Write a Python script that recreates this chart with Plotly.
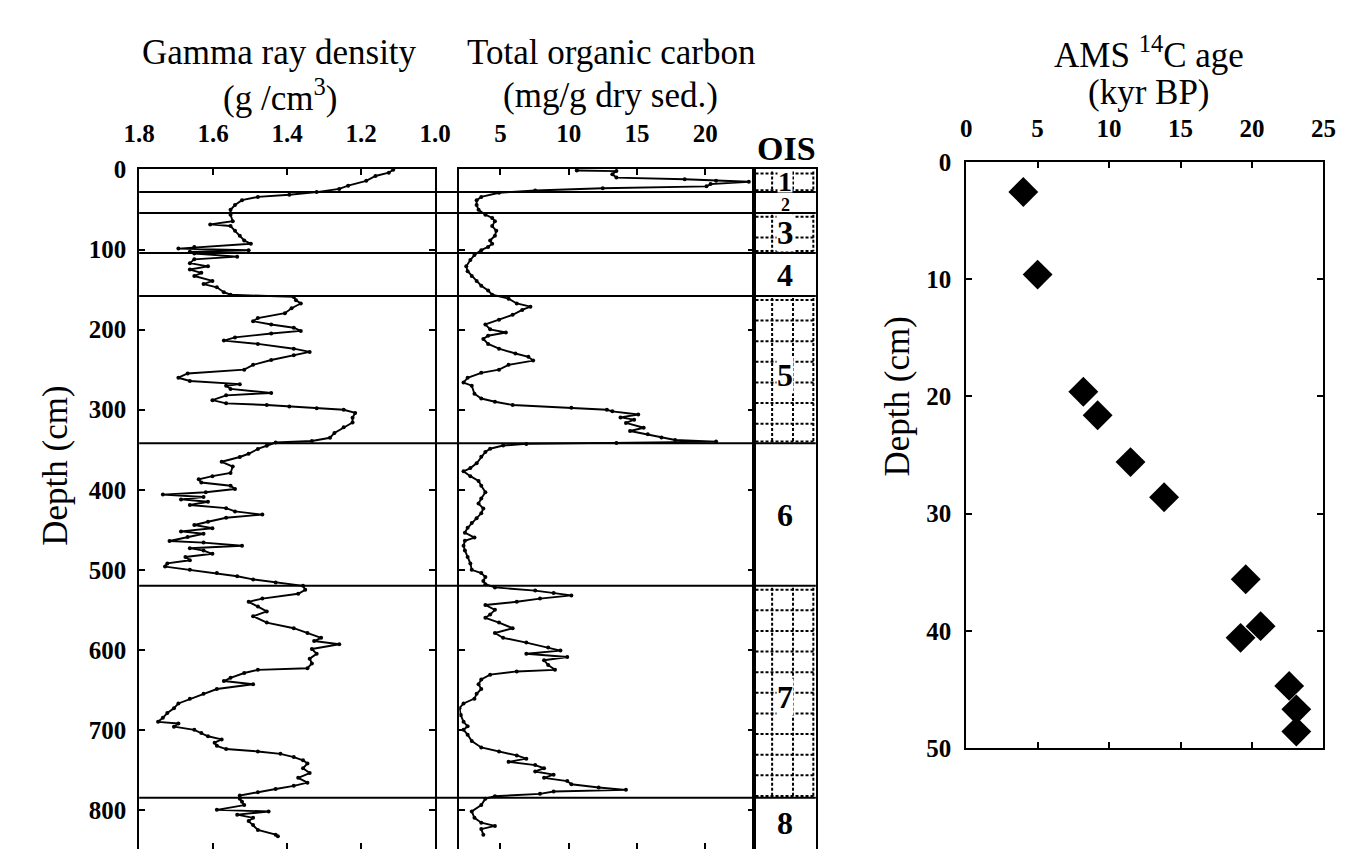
import plotly.graph_objects as go

FONT = "Liberation Serif"
W, H = 1351, 855

# ---------------- data ----------------
gamma_depth = [0, 3.8, 7.9, 13.9, 20, 24, 28, 31.3, 34, 38.1, 44.2, 50.2, 56.3, 64.4, 68.4, 70.4, 76.4, 82.5, 88.5, 92.6,
               96.6, 98.6, 100.6, 102.7, 104.7, 108.7, 112, 116.8, 120.8, 124.8, 128.9, 132.9, 139, 143, 147, 153.1, 156.3,
               159, 163.2, 167.2, 173.2, 179.3, 185.4, 189.4, 193.4, 197.5, 201.5, 204.7, 209.6, 213.6, 217.7, 223.7,
               227.7, 231.8, 237.8, 243.9, 249.9, 254.7, 260, 264, 268,
               270, 274, 279, 282, 288, 292, 294, 296, 298, 300, 304, 310, 316, 322, 329, 335, 339, 341, 345, 349, 355,
               359, 365, 371, 379, 383, 387, 391, 395, 399, 403, 406, 409, 412, 415, 419, 423, 427, 431, 435, 440, 444,
               448, 452, 455, 459, 464, 466, 470, 473, 476, 480, 484, 488, 492, 496, 500, 504, 508, 512, 516, 520, 525,
               530, 536, 540, 546, 552,
               558, 566, 573, 579, 585, 589, 593, 599, 605, 611, 617, 623, 625, 629, 635, 639, 643, 649, 655, 661, 667,
               673, 679, 685, 690, 692, 696, 700, 704, 708, 712, 716, 720, 724, 727, 730, 734, 738, 742, 748, 754, 760,
               766, 770, 774, 778, 782, 786, 790, 794, 800, 802, 806, 810, 814, 819, 825, 831, 833]
gamma_value = [1.113, 1.125, 1.161, 1.186, 1.235, 1.259, 1.32, 1.394, 1.479, 1.522, 1.541, 1.553, 1.553, 1.547, 1.608,
               1.553, 1.541, 1.528, 1.516, 1.498, 1.651, 1.694, 1.504, 1.663, 1.651, 1.535, 1.651, 1.663, 1.614, 1.663,
               1.632, 1.651, 1.602, 1.626, 1.59, 1.571, 1.553, 1.382, 1.376, 1.363, 1.388, 1.406, 1.479, 1.492, 1.443,
               1.382, 1.363, 1.443, 1.541, 1.571, 1.479, 1.382, 1.339, 1.382, 1.443, 1.492, 1.516, 1.669, 1.694, 1.663,
               1.528,
               1.565, 1.553, 1.443, 1.565, 1.602, 1.565, 1.455, 1.394, 1.32, 1.247, 1.216, 1.223, 1.223, 1.247, 1.272,
               1.284, 1.333, 1.431, 1.455, 1.479, 1.504, 1.528, 1.577, 1.547, 1.553, 1.602, 1.639, 1.632, 1.553, 1.541,
               1.62, 1.736, 1.626, 1.687, 1.614, 1.663, 1.565, 1.541, 1.467, 1.565, 1.614, 1.651, 1.602, 1.687, 1.626,
               1.669, 1.718, 1.626, 1.522, 1.663, 1.626, 1.602, 1.675, 1.663, 1.724, 1.73, 1.663, 1.59, 1.535, 1.492,
               1.431, 1.357, 1.351, 1.37, 1.467, 1.504, 1.479, 1.455,
               1.492, 1.455, 1.382, 1.345, 1.308, 1.327, 1.259, 1.333, 1.32, 1.339, 1.333, 1.345, 1.479, 1.516, 1.553,
               1.571, 1.492, 1.59, 1.626, 1.663, 1.694, 1.706, 1.724, 1.736, 1.749, 1.694, 1.706, 1.651, 1.632, 1.614,
               1.577, 1.596, 1.59, 1.565, 1.479, 1.418, 1.382, 1.357, 1.345, 1.357, 1.339, 1.37, 1.345, 1.382, 1.431,
               1.479, 1.528, 1.528, 1.522, 1.516, 1.59, 1.45, 1.535, 1.492, 1.504, 1.492, 1.479, 1.431, 1.425]

toc_depth = [1, 1.8, 5.8, 9.9, 11.9, 13.9, 15.1, 18, 20.8, 23.2, 26, 28.8, 34, 38.1, 44.2, 50.2, 56.3, 60.3, 64.4, 70.4,
             76.4, 82.5, 88.5, 92.6, 96.6, 100.6, 106.7, 112.8, 120.8, 126.9, 132.9, 139, 145, 151.1, 156.3, 161.2,
             167.2, 171.2, 175.3, 181.3, 187.4, 193.4, 199.5, 203.5, 207.5, 211.6, 217.7, 223.7, 229.7, 233.8, 238.6,
             243.9, 249.9, 253.9, 260, 266, 270, 280, 286, 290, 294, 297.5, 300, 302, 306, 309.6, 312.4, 316.4, 322.5,
             326.5, 330.6, 334.6, 337.8, 339.8, 341.5, 342.7, 344.7, 348.7, 352.8, 358.8, 366.9, 372.9, 377, 383, 389,
             395, 403, 411, 417.3, 423.4, 429.4, 435.5, 441.5, 447.6, 453.6, 459.7, 463.7, 469.8, 475.8, 483.9, 492,
             500, 504, 509, 514, 518, 522, 526, 529, 532, 536, 540, 544, 550, 556, 560, 566, 573, 579, 585, 591, 597,
             601, 605, 609, 613, 619, 625, 627, 631, 637, 643, 649, 655, 661, 667, 673, 681.6, 690, 695.6, 700, 706,
             714, 722, 727, 732, 736, 740, 744, 748, 752, 756, 760, 764, 768, 772, 775, 777, 780, 783, 786, 794, 802,
             810, 816, 820, 824, 831]
toc_value = [10.6, 13.5, 13.2, 13.5, 18.5, 20.8, 23.2, 20.4, 20.1, 12.5, 7.55, 4.9, 3.6, 3.26, 3.26, 3.4, 3.9, 4.4, 4.6,
             4.4, 4.7, 4.6, 4.25, 4.4, 4.1, 3.6, 3.1, 2.8, 2.5, 2.6, 2.9, 3.26, 3.6, 4.1, 4.4, 5.6, 6.2, 7.2, 6.6, 5.9,
             4.9, 3.9, 4.25, 5.4, 4.1, 3.75, 4.1, 4.9, 6.1, 7.05, 7.4, 5.6, 4.9, 3.6, 2.6, 2.3, 2.9, 3.1, 3.6, 4.6, 5.9,
             10.2, 12.8, 13.2, 15.1, 13.8, 14.8, 14.2, 15.5, 14.5, 15.8, 16.8, 17.8, 20.8, 13.5, 6.9, 5.2, 4.25, 3.9,
             3.6, 3.26, 2.8, 2.3, 2.8, 3.4, 3.6, 3.9, 3.6, 3.4, 3.75, 3.6, 3.26, 2.9, 2.6, 2.4, 3.1, 2.4, 2.3, 2.4, 2.6,
             2.8, 2.9, 3.6, 3.9, 3.75, 3.9, 4.6, 7.55, 8.9, 10.2, 7.9, 6.2, 3.9, 4.6, 4.25, 3.9, 4.9, 5.9, 4.6, 5.2,
             6.9, 8.5, 9.4, 6.9, 9.9, 8.2, 8.5, 9.0, 6.2, 4.25, 3.6, 3.4, 3.6, 3.26, 3.1, 2.3, 2.0, 2.1, 2.3, 2.6, 2.3,
             2.6, 2.9, 3.6, 4.9, 6.2, 6.9, 5.6, 7.55, 8.2, 7.55, 8.9, 8.2, 9.9, 10.2, 12.2, 14.2, 8.9, 7.9, 4.6, 3.9,
             3.6, 2.9, 3.1, 3.6, 4.6, 3.6, 3.75]

ois_bounds = [0, 28, 54, 104, 158, 342, 520, 785, 849]
ois_stages = ["1", "2", "3", "4", "5", "6", "7", "8"]
ois_label_size = [28, 18, 33, 32, 32, 32, 32, 32]

age_kyr = [4.0, 5.0, 8.2, 9.2, 11.5, 13.85, 19.56, 20.6, 19.2, 22.6, 23.1, 23.1]
age_depth = [2.55, 9.6, 19.6, 21.6, 25.6, 28.6, 35.6, 39.6, 40.6, 44.7, 46.7, 48.6]

gamma_ticks = [1.8, 1.6, 1.4, 1.2, 1.0]
toc_ticks = [5, 10, 15, 20]
depth_ticks = [0, 100, 200, 300, 400, 500, 600, 700, 800]

# ---------------- geometry (pixels -> paper) ----------------
def px(p):
    return p / W

def py(p):
    return 1 - p / H

TOP = 152.7
DEPTH_RANGE = [848.9, -1.0]
GAMMA_RANGE = [1.8, 1.0]
TOC_RANGE = [2, 23.6]

tickfont = dict(family=FONT, size=25, color="black", weight="bold")
common = dict(showline=True, linewidth=2, linecolor="black", showgrid=False, zeroline=False,
              ticks="inside", ticklen=6, tickwidth=2, tickcolor="black", tickfont=tickfont)
bottom_ticks = dict(side="bottom", showline=False, showgrid=False, zeroline=False, ticks="inside", ticklen=6,
                    tickwidth=2, tickcolor="black", showticklabels=False)

fig = go.Figure()
line_style = dict(color="black", width=1.9)
mk = dict(size=4, color="black")
fig.add_trace(go.Scatter(x=gamma_value, y=gamma_depth, mode="lines+markers", line=line_style, marker=mk,
                         xaxis="x", yaxis="y", showlegend=False))
fig.add_trace(go.Scatter(x=toc_value, y=toc_depth, mode="lines+markers", line=line_style, marker=mk,
                         xaxis="x2", yaxis="y2", showlegend=False))
fig.add_trace(go.Scatter(x=[], y=[], xaxis="x3", yaxis="y3", showlegend=False))
fig.add_trace(go.Scatter(x=age_kyr, y=age_depth, mode="markers",
                         marker=dict(symbol="diamond", size=23, color="black"),
                         xaxis="x4", yaxis="y4", showlegend=False))
fig.add_trace(go.Scatter(x=[], y=[], xaxis="x5", yaxis="y", showlegend=False))
fig.add_trace(go.Scatter(x=[], y=[], xaxis="x6", yaxis="y2", showlegend=False))

fig.update_layout(
    width=W, height=H, margin=dict(l=0, r=0, t=0, b=0),
    plot_bgcolor="white", paper_bgcolor="white", showlegend=False,
    xaxis=dict(domain=[px(118), px(421)], range=GAMMA_RANGE, side="top", anchor="y",
               tickvals=gamma_ticks, ticktext=["%.1f" % v for v in gamma_ticks], mirror=False,
               ticklabelstandoff=15, **common),
    xaxis5=dict(overlaying="x", anchor="y", range=GAMMA_RANGE, tickvals=gamma_ticks, **bottom_ticks),
    yaxis=dict(domain=[0, py(TOP)], range=DEPTH_RANGE, anchor="x", tickvals=depth_ticks, mirror="ticks",
               ticklabelstandoff=6, **common),
    xaxis2=dict(domain=[px(446), px(748)], range=TOC_RANGE, side="top", anchor="y2",
                tickvals=toc_ticks, mirror=False, ticklabelstandoff=15, **common),
    xaxis6=dict(overlaying="x2", anchor="y2", range=TOC_RANGE, tickvals=toc_ticks, **bottom_ticks),
    yaxis2=dict(domain=[0, py(TOP)], range=DEPTH_RANGE, anchor="x2", tickvals=depth_ticks, mirror="ticks",
                showticklabels=False, **common),
    xaxis3=dict(domain=[px(748), px(811)], range=[0, 1], anchor="y3", side="top", showline=True, linewidth=2,
                linecolor="black", mirror=False, showticklabels=False, ticks="", showgrid=False, zeroline=False),
    yaxis3=dict(domain=[0, py(TOP)], range=DEPTH_RANGE, anchor="x3", showline=True, linewidth=2,
                linecolor="black", mirror=True, showticklabels=False, ticks="", showgrid=False, zeroline=False),
    xaxis4=dict(domain=[px(965), px(1331)], range=[0, 25], side="top", anchor="y4", dtick=5, mirror="ticks",
                ticklabelstandoff=13, **common),
    yaxis4=dict(domain=[py(750.7), py(145.7)], range=[50, 0], anchor="x4", dtick=10, mirror="ticks",
                ticklabelstandoff=8, **common),
)

shapes = []
# stage boundary lines across both log panels and the OIS column
for b in ois_bounds[1:-1]:
    shapes.append(dict(type="line", xref="paper", yref="y", x0=px(118), x1=px(811), y0=b, y1=b,
                       line=dict(color="black", width=2), layer="above"))

# dotted grid pattern in odd (interglacial) stages
CM_PER_PX = 1 / 0.8264
inset = 4 * CM_PER_PX
step = 21.3 * CM_PER_PX
dot = dict(color="black", width=2, dash="3px,2px")
for i, lab in enumerate(ois_stages):
    if int(lab) % 2 == 0:
        continue
    top, bot = ois_bounds[i], ois_bounds[i + 1]
    yy = top + inset
    while yy < bot - inset * 0.9:
        shapes.append(dict(type="line", xref="x3", yref="y", x0=0.02, x1=0.97, y0=yy, y1=yy, line=dot))
        yy += step
    shapes.append(dict(type="line", xref="x3", yref="y", x0=0.02, x1=0.97, y0=bot - inset * 0.5,
                       y1=bot - inset * 0.5, line=dot))
    for xv in (0.29, 0.63, 0.96):
        shapes.append(dict(type="line", xref="x3", yref="y", x0=xv, x1=xv, y0=top + inset * 0.5,
                           y1=bot - inset * 0.5, line=dot))
fig.update_layout(shapes=shapes)

ann = []
title_font = dict(family=FONT, size=35, color="black")
for xc, l1, l2, y2 in [(262, "Gamma ray density", "(g /cm<sup>3</sup>)", 77),
                       (601, "Total organic carbon", "(mg/g dry sed.)", 77),
                       (1152, "AMS <sup>14</sup>C age", "(kyr BP)", 74)]:
    ann.append(dict(x=px(xc), y=py(33), xref="paper", yref="paper", text=l1, showarrow=False,
                    font=title_font, xanchor="center", yanchor="middle"))
    ann.append(dict(x=px(xc), y=py(y2), xref="paper", yref="paper", text=l2, showarrow=False,
                    font=title_font, xanchor="center", yanchor="middle"))

ann.append(dict(x=px(781), y=py(132), xref="paper", yref="paper", text="OIS", showarrow=False,
                font=dict(family=FONT, size=34, color="black", weight="bold"), xanchor="center", yanchor="middle"))

for i, lab in enumerate(ois_stages):
    top, bot = ois_bounds[i], ois_bounds[i + 1]
    odd = int(lab) % 2 == 1
    extra = {}
    if bot - top < 40:
        extra["height"] = 22 if odd else 18
    shift = 6 if (odd and bot - top > 100) else (3 if bot - top < 27 else 0)
    ann.append(dict(x=0.5, y=(top + bot) / 2 + shift, xref="x3", yref="y",
                    text=lab, showarrow=False,
                    font=dict(family=FONT, size=ois_label_size[i], color="black", weight="bold"),
                    bgcolor="white" if odd else "rgba(0,0,0,0)", borderpad=0,
                    xanchor="center", yanchor="middle", **extra))

ann.append(dict(x=px(32), y=py(459), xref="paper", yref="paper", text="Depth (cm)", textangle=-90,
                showarrow=False, font=title_font, xanchor="center", yanchor="middle"))
ann.append(dict(x=px(895), y=py(388), xref="paper", yref="paper", text="Depth (cm)", textangle=-90,
                showarrow=False, font=title_font, xanchor="center", yanchor="middle"))

# arrows from OIS column to the age panel
arrow = dict(xref="x4", yref="y4", axref="x4", ayref="y4", showarrow=True, arrowhead=3, arrowsize=2.3,
             arrowwidth=2, arrowcolor="black", text="", standoff=0, startstandoff=0)
ann.append(dict(x=-2.73, y=-0.06, ax=-10.52, ay=0.52, **arrow))
ann.append(dict(x=-4.03, y=48.45, ax=-10.52, ay=3.41, **arrow))

fig.update_layout(annotations=ann)
fig.write_html("out.html")
